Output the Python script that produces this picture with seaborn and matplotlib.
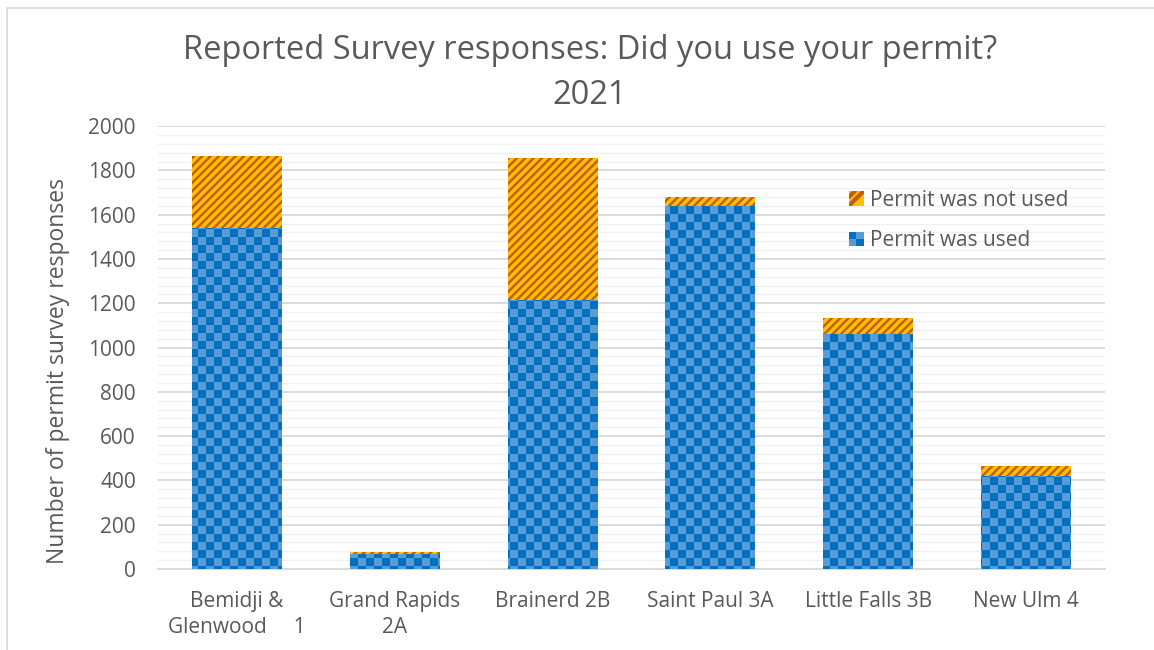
import numpy as np
import pandas as pd
import matplotlib
matplotlib.use("Agg")
import matplotlib.pyplot as plt
import seaborn as sns
from matplotlib.colors import ListedColormap
from matplotlib.patches import Rectangle
from matplotlib.legend_handler import HandlerBase
from matplotlib.lines import Line2D

categories = ["Bemidji &\nGlenwood     1", "Grand Rapids\n2A", "Brainerd 2B",
              "Saint Paul 3A", "Little Falls 3B", "New Ulm 4"]
used = [1540, 70, 1215, 1638, 1060, 420]
not_used = [325, 8, 640, 42, 75, 45]
series_names = ["Permit was not used", "Permit was used"]

sns.set_theme(style="white")
plt.rcParams['font.family'] = ['Open Sans', 'DejaVu Sans']
plt.rcParams['hatch.linewidth'] = 1.6

TXT = "#595959"
BLUE_D = "#0070C0"
BLUE_L = "#5B9BD5"
ORANGE = "#FFC000"
ORANGE_D = "#C55A11"

df = pd.DataFrame({"cat": categories, "used": used,
                   "total": [u + n for u, n in zip(used, not_used)]})

fig = plt.figure(figsize=(11.54, 6.5), dpi=100)
ax = fig.add_axes([0.137, 0.1246, 0.8205, 0.6814])

sns.barplot(data=df, x="cat", y="total", color=ORANGE, width=0.57,
            saturation=1, ax=ax, edgecolor="none", linewidth=0)
n_tot = len(ax.patches)
sns.barplot(data=df, x="cat", y="used", color=BLUE_L, width=0.57,
            saturation=1, ax=ax, edgecolor="none", linewidth=0)

for p in ax.patches[:n_tot]:
    p.set_hatch("////")
    p.set_edgecolor(ORANGE_D)
    p.set_linewidth(0)
    p.set_zorder(2)
    try:
        p.set_hatch_linewidth(1.7)
    except Exception:
        pass

ax.set_ylim(0, 2000)
ax.set_xlim(-0.5, len(categories) - 0.5)

# checkerboard fill for "used" bars
cell = 8.0
w_px, h_px = 0.8205 * 1154, 0.6814 * 650
nx, ny = int(np.ceil(w_px / cell)), int(np.ceil(h_px / cell))
checker = (np.add.outer(np.arange(ny), np.arange(nx)) % 2)
cmap = ListedColormap([BLUE_D, BLUE_L])
x0, x1 = ax.get_xlim()
for p in ax.patches[n_tot:]:
    p.set_zorder(2)
    im = ax.imshow(checker, cmap=cmap, extent=(x0, x0 + nx * cell / w_px * (x1 - x0),
                   2000 - ny * cell / h_px * 2000, 2000), aspect="auto",
                   interpolation="nearest", origin="upper", zorder=3)
    im.set_clip_path(p)
ax.set_xlim(x0, x1)
ax.set_ylim(0, 2000)

# grid
ax.set_yticks(np.arange(0, 2001, 200))
ax.set_yticks(np.arange(0, 2001, 40), minor=True)
ax.grid(axis="y", which="major", color="#D9D9D9", linewidth=1.3)
ax.grid(axis="y", which="minor", color="#F0F0F0", linewidth=1.0)
ax.set_axisbelow(True)
for s in ["top", "right", "left"]:
    ax.spines[s].set_visible(False)
ax.spines["bottom"].set_color("#D9D9D9")
ax.spines["bottom"].set_linewidth(1.3)
ax.tick_params(axis="both", which="both", length=0, labelsize=15, colors=TXT)
ax.tick_params(axis="x", pad=16)
ax.tick_params(axis="y", pad=16)
for t in ax.get_xticklabels():
    t.set_linespacing(1.3)
ax.set_xlabel("")
ax.set_ylabel("Number of permit survey responses", fontsize=16.5, color=TXT, labelpad=24)
ax.yaxis.set_label_coords(-0.093, 0.446)
fig.text(0.511, 0.947, "Reported Survey responses: Did you use your permit?\n2021",
         fontsize=23.5, color=TXT, ha="center", va="top", linespacing=1.45)


class CheckerHandler(HandlerBase):
    def create_artists(self, legend, orig_handle, xdescent, ydescent,
                       width, height, fontsize, trans):
        s = height
        xo = -xdescent + (width - s) / 2
        yo = -ydescent
        arts = []
        cols = [[BLUE_L, BLUE_D], [BLUE_D, BLUE_L]]
        for i in range(2):
            for j in range(2):
                r = Rectangle((xo + j * s / 2, yo + i * s / 2), s / 2, s / 2,
                              facecolor=cols[i][j], edgecolor="none", transform=trans)
                arts.append(r)
        return arts


class StripeHandler(HandlerBase):
    def create_artists(self, legend, orig_handle, xdescent, ydescent,
                       width, height, fontsize, trans):
        s = height
        xo = -xdescent + (width - s) / 2
        yo = -ydescent
        r = Rectangle((xo, yo), s, s, facecolor=ORANGE, edgecolor="none", transform=trans)
        l = Line2D([xo, xo + s], [yo, yo + s], color=ORANGE_D, linewidth=3, transform=trans)
        l2 = Line2D([xo, xo + s * 0.4], [yo + s * 0.6, yo + s], color=ORANGE_D, linewidth=3, transform=trans)
        l.set_clip_path(r)
        l2.set_clip_path(r)
        return [r, l, l2]


class H1: pass
class H2: pass
leg = ax.legend([H1(), H2()], series_names,
                handler_map={H1: StripeHandler(), H2: CheckerHandler()},
                loc="upper left", bbox_to_anchor=(0.71, 0.899), frameon=False,
                fontsize=15, labelcolor=TXT, handlelength=0.7, handleheight=0.7,
                handletextpad=0.3, labelspacing=0.95)

# chart border
fig.add_artist(Line2D([7 / 1154, 1], [1 - 7.5 / 650, 1 - 7.5 / 650], color="#D9D9D9",
                      linewidth=1.2, transform=fig.transFigure))
fig.add_artist(Line2D([7 / 1154, 7 / 1154], [0, 1 - 7.5 / 650], color="#D9D9D9",
                      linewidth=1.2, transform=fig.transFigure))

fig.savefig("out.png", dpi=100)
